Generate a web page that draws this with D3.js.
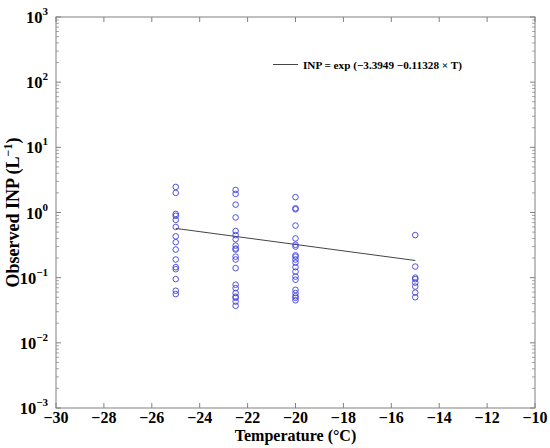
<!DOCTYPE html>
<html><head><meta charset="utf-8">
<script src="https://cdn.jsdelivr.net/npm/d3@7"></script>
<style>body{margin:0;background:#fff}text{font-family:"Liberation Serif","Times New Roman",serif;font-weight:bold}</style>
</head><body><svg id="c" width="550" height="448"></svg>
<script>
// Observed INP (L^-1) per freezing temperature group
const groupTemps = [-25, -22.5, -20, -15];
const inpAtM25 = [2.47, 2.0, 0.95, 0.89, 0.77, 0.6, 0.43, 0.35, 0.27, 0.19, 0.145, 0.135, 0.095, 0.063, 0.056];
const inpAtM22_5 = [2.22, 1.93, 1.32, 0.84, 0.52, 0.45, 0.39, 0.31, 0.28, 0.27, 0.21, 0.19, 0.14, 0.078, 0.069, 0.058, 0.051, 0.049, 0.043, 0.037];
const inpAtM20 = [1.72, 1.16, 1.12, 0.63, 0.40, 0.32, 0.30, 0.22, 0.21, 0.19, 0.17, 0.145, 0.124, 0.104, 0.093, 0.065, 0.058, 0.052, 0.049, 0.045];
const inpAtM15 = [0.45, 0.148, 0.10, 0.095, 0.084, 0.073, 0.059, 0.05];
const fitIntercept = -3.3949;
const fitSlope = -0.11328;
const fitRange = [-25, -15];
const xTicks = [-30, -28, -26, -24, -22, -20, -18, -16, -14, -12, -10];
const yExponents = [-3, -2, -1, 0, 1, 2, 3];
const legendLabel = "INP = exp (\u22123.3949 \u22120.11328 \u00d7 T)";

const groups = [inpAtM25, inpAtM22_5, inpAtM20, inpAtM15];
const points = [];
groups.forEach((arr, i) => arr.forEach(v => points.push({t: groupTemps[i], v})));

const L = 56, R = 535, T = 17, B = 408;
const svg = d3.select("#c");
const x = d3.scaleLinear().domain([-30, -10]).range([L, R]);
const y = d3.scaleLog().domain([1e-3, 1e3]).range([B, T]);
const axisColor = "#808080";

// box
svg.append("rect").attr("x", L).attr("y", T).attr("width", R - L).attr("height", B - T)
  .attr("fill", "none").attr("stroke", axisColor).attr("stroke-width", 1);

// x ticks (bottom & top, inward)
const g = svg.append("g");
xTicks.forEach(t => {
  g.append("line").attr("x1", x(t)).attr("x2", x(t)).attr("y1", B).attr("y2", B - 5).attr("stroke", axisColor);
  g.append("line").attr("x1", x(t)).attr("x2", x(t)).attr("y1", T).attr("y2", T + 5).attr("stroke", axisColor);
  g.append("text").attr("x", x(t)).attr("y", B + 15).attr("text-anchor", "middle")
    .attr("font-size", 16).attr("fill", "#000").text(t < 0 ? "\u2212" + Math.abs(t) : String(t));
});

// y ticks (major + minor)
yExponents.forEach(e => {
  const v = Math.pow(10, e);
  [[L, L + 5], [R, R - 5]].forEach(([a, b]) =>
    g.append("line").attr("x1", a).attr("x2", b).attr("y1", y(v)).attr("y2", y(v)).attr("stroke", axisColor));
  if (e < 3) {
    for (let m = 2; m <= 9; m++) {
      const mv = m * v;
      [[L, L + 3], [R, R - 3]].forEach(([a, b]) =>
        g.append("line").attr("x1", a).attr("x2", b).attr("y1", y(mv)).attr("y2", y(mv)).attr("stroke", axisColor).attr("stroke-width", 0.7));
    }
  }
  const tx = g.append("text").attr("x", 48).attr("y", y(v) + 6).attr("text-anchor", "end").attr("font-size", 16.5).attr("fill", "#000");
  tx.append("tspan").text("10");
  tx.append("tspan").attr("dy", -8).attr("font-size", 11).text(e < 0 ? "\u2212" + Math.abs(e) : String(e));
});

// fit line
const line = d3.line().x(d => x(d)).y(d => y(Math.exp(fitIntercept + fitSlope * d)));
svg.append("path").datum(fitRange).attr("d", line).attr("fill", "none").attr("stroke", "#444").attr("stroke-width", 1);

// points
svg.append("g").selectAll("circle").data(points).join("circle")
  .attr("cx", d => x(d.t)).attr("cy", d => y(d.v)).attr("r", 2.8)
  .attr("fill", "none").attr("stroke", "#4040e0").attr("stroke-width", 0.9);

// legend
svg.append("line").attr("x1", 273).attr("x2", 298).attr("y1", 64.5).attr("y2", 64.5).attr("stroke", "#444");
svg.append("text").attr("x", 303).attr("y", 68.5).attr("font-size", 11.2).attr("fill", "#000").text(legendLabel);

// axis titles
svg.append("text").attr("x", (L + R) / 2).attr("y", 441).attr("text-anchor", "middle").attr("font-size", 16).attr("fill", "#000")
  .text("Temperature (\u00b0C)");
const yt = svg.append("text").attr("transform", `translate(19,${(T + B) / 2}) rotate(-90)`).attr("text-anchor", "middle")
  .attr("font-size", 18).attr("fill", "#000");
yt.append("tspan").text("Observed INP  (L");
yt.append("tspan").attr("dy", -7).attr("font-size", 12).text("\u22121");
yt.append("tspan").attr("dy", 7).text(")");
</script></body></html>
